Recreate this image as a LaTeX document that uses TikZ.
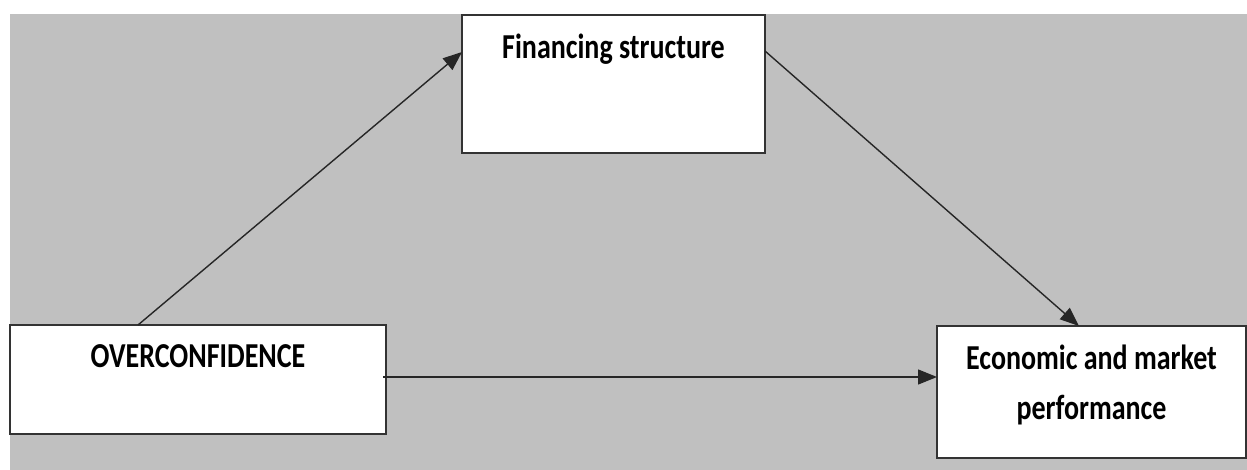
\documentclass[tikz,border=0pt]{standalone}
\usepackage{fontspec}
\usepackage{graphicx}
\setmainfont{Carlito}
\usetikzlibrary{arrows.meta}
\newcommand{\narrow}[1]{\scalebox{0.8}[1]{#1}}
\begin{document}
\begin{tikzpicture}[x=1pt,y=-1pt,
  boxnode/.style={draw=black!80,line width=1.5pt,fill=white,inner sep=0pt,outer sep=0pt},
  boxlabel/.style={anchor=north,inner sep=0pt,yshift=-19pt,align=center,
     font=\bfseries\fontsize{35}{50}\selectfont,text=black},
  arr/.style={draw=black!85,line width=1.4pt,-{Triangle[length=19pt,width=15pt]}}]
\useasboundingbox (0,0) rectangle (1247,470);
\fill[fill={rgb,255:red,192;green,192;blue,192}] (10,14) rectangle (1247,470);
\node[boxnode,minimum width=303pt,minimum height=138pt,
  label={[boxlabel]north:\narrow{Financing structure}}] (fin) at (613.5,84) {};
\node[boxnode,minimum width=376pt,minimum height=109pt,
  label={[boxlabel]north:\narrow{OVERCONFIDENCE}}] (over) at (198,379.5) {};
\node[boxnode,minimum width=309pt,minimum height=132pt,
  label={[boxlabel]north:\narrow{Economic and market}\\\narrow{performance}}] (eco) at (1091.5,392) {};
\draw[arr] ([xshift=128pt]over.north west) -- ([yshift=-37pt]fin.north west);
\draw[arr] ([yshift=-36pt]fin.north east) -- ([xshift=142pt]eco.north west);
\draw[arr] ([xshift=-3pt,yshift=2.5pt]over.east) -- ([yshift=-51pt]eco.north west);
\end{tikzpicture}
\end{document}
